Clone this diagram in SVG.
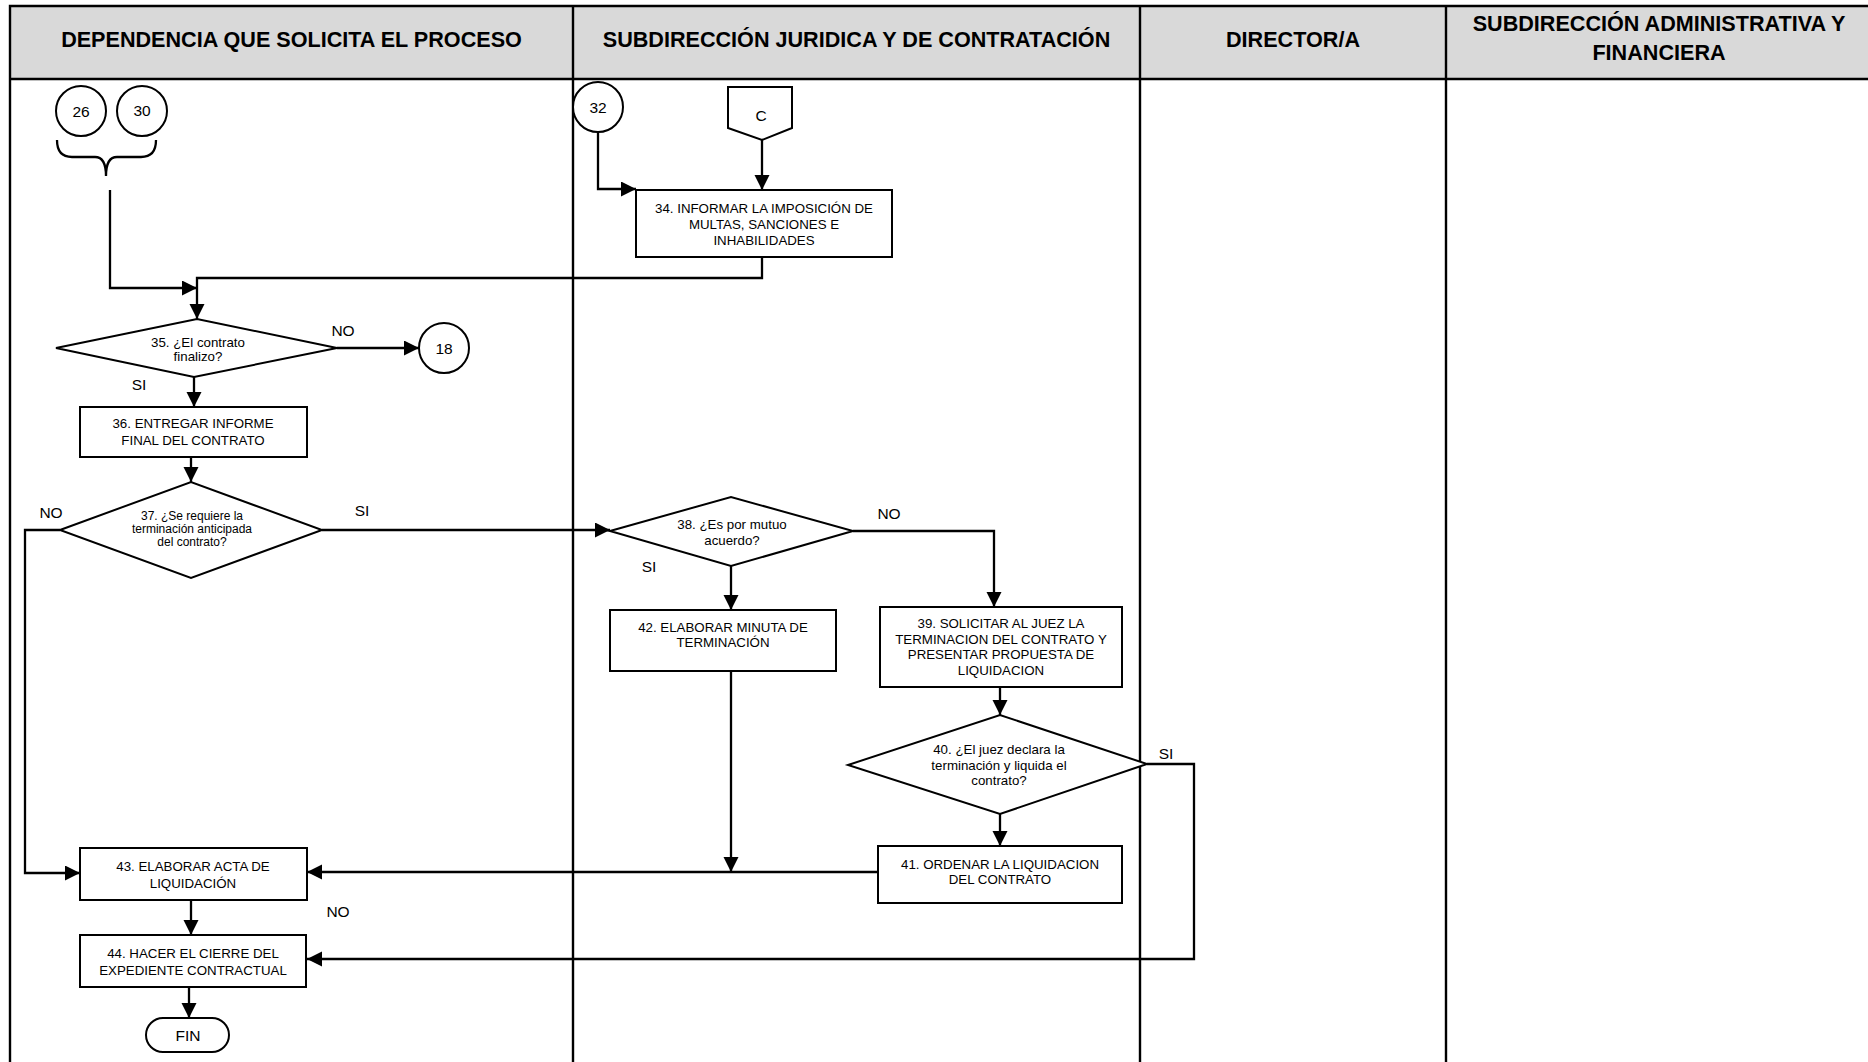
<svg xmlns="http://www.w3.org/2000/svg" width="1868" height="1062" viewBox="0 0 1868 1062">
<style>
.lane{fill:none;stroke:#000;stroke-width:2.4}
.hdr{font-family:"Liberation Sans",Arial,sans-serif;font-weight:bold;font-size:21.6px;fill:#000;text-anchor:middle}
.box{fill:#fff;stroke:#000;stroke-width:2}
.t{font-family:"Liberation Sans",Arial,sans-serif;font-size:13.3px;fill:#000;text-anchor:middle}
.ts{font-family:"Liberation Sans",Arial,sans-serif;font-size:12px;fill:#000;text-anchor:middle}
.lbl{font-family:"Liberation Sans",Arial,sans-serif;font-size:15.5px;fill:#000;text-anchor:middle}
.c{font-family:"Liberation Sans",Arial,sans-serif;font-size:15.5px;fill:#000;text-anchor:middle}
.ln{fill:none;stroke:#000;stroke-width:2.3}
.arr{fill:none;stroke:#000;stroke-width:2.3;marker-end:url(#ah)}
</style>
<defs>
<marker id="ah" markerUnits="userSpaceOnUse" markerWidth="16" markerHeight="16" refX="15" refY="7.5" orient="auto">
<path d="M0,0 L15,7.5 L0,15 Z" fill="#000"/>
</marker>
</defs>
<rect x="0" y="0" width="1868" height="1062" fill="#fff"/>
<g id="lanes">
<rect x="10" y="6" width="1870" height="73" fill="#d9d9d9"/>
<path class="lane" d="M10,1062 L10,6 L1868,6 M10,79 L1868,79 M573,6 L573,1062 M1140,6 L1140,1062 M1446,6 L1446,1062"/>
<text class="hdr" x="291.5" y="47">DEPENDENCIA QUE SOLICITA EL PROCESO</text>
<text class="hdr" x="856.5" y="47">SUBDIRECCIÓN JURIDICA Y DE CONTRATACIÓN</text>
<text class="hdr" x="1293" y="47">DIRECTOR/A</text>
<text class="hdr" x="1659" y="31">SUBDIRECCIÓN ADMINISTRATIVA Y</text>
<text class="hdr" x="1659" y="60">FINANCIERA</text>
</g>
<g id="connectors">
<path class="ln" d="M57,140 Q57,157 72,157 L95,157 Q106,157 106,176 Q106,157 117,157 L141,157 Q156,157 156,140"/>
<path class="arr" d="M110,190 L110,288 L197,288"/>
<path class="arr" d="M762,257 L762,278 L197,278 L197,319"/>
<path class="arr" d="M337,348 L419,348"/>
<path class="arr" d="M194,377 L194,407"/>
<path class="arr" d="M191,457 L191,482"/>
<path class="arr" d="M60,530 L25,530 L25,873 L80,873"/>
<path class="arr" d="M322,530 L610,530"/>
<path class="arr" d="M853,531 L994,531 L994,607"/>
<path class="arr" d="M731,566 L731,610"/>
<path class="arr" d="M731,671 L731,872"/>
<path class="arr" d="M1000,687 L1000,715"/>
<path class="arr" d="M1147,764 L1194,764 L1194,959 L307,959"/>
<path class="arr" d="M1000,814 L1000,846"/>
<path class="arr" d="M878,872 L307,872"/>
<path class="arr" d="M191,900 L191,935"/>
<path class="arr" d="M189,987 L189,1018"/>
<path class="arr" d="M598,133 L598,189 L636,189"/>
<path class="arr" d="M762,140 L762,190"/>
<text class="lbl" x="343" y="336">NO</text>
<text class="lbl" x="139" y="390">SI</text>
<text class="lbl" x="51" y="518">NO</text>
<text class="lbl" x="362" y="516">SI</text>
<text class="lbl" x="889" y="519">NO</text>
<text class="lbl" x="649" y="572">SI</text>
<text class="lbl" x="1166" y="759">SI</text>
<text class="lbl" x="338" y="917">NO</text>
</g>
<g id="n26"><circle class="box" cx="81" cy="111" r="25"/><text class="c" x="81" y="117">26</text></g>
<g id="n30"><circle class="box" cx="142" cy="111" r="25"/><text class="c" x="142" y="116">30</text></g>
<g id="n32"><circle class="box" cx="598" cy="107" r="25"/><text class="c" x="598" y="113">32</text></g>
<g id="nC"><path class="box" d="M728,87 L792,87 L792,128 L762,140 L728,128 Z"/><text class="c" x="761" y="121">C</text></g>
<g id="n34"><rect class="box" x="636" y="190" width="256" height="67"/>
<text class="t" x="764" y="213">34. INFORMAR LA IMPOSICIÓN DE</text>
<text class="t" x="764" y="229">MULTAS, SANCIONES E</text>
<text class="t" x="764" y="245">INHABILIDADES</text></g>
<g id="n35"><path class="box" d="M56,348 L197,319 L337,348 L194,377 Z"/>
<text class="t" x="198" y="347">35. ¿El contrato</text>
<text class="t" x="198" y="361">finalizo?</text></g>
<g id="n18"><circle class="box" cx="444" cy="348" r="25"/><text class="c" x="444" y="354">18</text></g>
<g id="n36"><rect class="box" x="80" y="407" width="227" height="50"/>
<text class="t" x="193" y="428">36. ENTREGAR INFORME</text>
<text class="t" x="193" y="445">FINAL DEL CONTRATO</text></g>
<g id="n37"><path class="box" d="M60,530 L191,482 L322,530 L191,578 Z"/>
<text class="ts" x="192" y="520">37. ¿Se requiere la</text>
<text class="ts" x="192" y="533">terminación anticipada</text>
<text class="ts" x="192" y="546">del contrato?</text></g>
<g id="n38"><path class="box" d="M610,531 L731,497 L853,531 L731,566 Z"/>
<text class="t" x="732" y="529">38. ¿Es por mutuo</text>
<text class="t" x="732" y="545">acuerdo?</text></g>
<g id="n42"><rect class="box" x="610" y="610" width="226" height="61"/>
<text class="t" x="723" y="632">42. ELABORAR MINUTA DE</text>
<text class="t" x="723" y="647">TERMINACIÓN</text></g>
<g id="n39"><rect class="box" x="880" y="607" width="242" height="80"/>
<text class="t" x="1001" y="628">39. SOLICITAR AL JUEZ LA</text>
<text class="t" x="1001" y="644">TERMINACION DEL CONTRATO Y</text>
<text class="t" x="1001" y="659">PRESENTAR PROPUESTA DE</text>
<text class="t" x="1001" y="675">LIQUIDACION</text></g>
<g id="n40"><path class="box" d="M848,765 L1000,715 L1147,764 L1000,814 Z"/>
<text class="t" x="999" y="754">40. ¿El juez declara la</text>
<text class="t" x="999" y="770">terminación y liquida el</text>
<text class="t" x="999" y="785">contrato?</text></g>
<g id="n41"><rect class="box" x="878" y="846" width="244" height="57"/>
<text class="t" x="1000" y="869">41. ORDENAR LA LIQUIDACION</text>
<text class="t" x="1000" y="884">DEL CONTRATO</text></g>
<g id="n43"><rect class="box" x="80" y="848" width="227" height="52"/>
<text class="t" x="193" y="871">43. ELABORAR ACTA DE</text>
<text class="t" x="193" y="888">LIQUIDACIÓN</text></g>
<g id="n44"><rect class="box" x="80" y="935" width="226" height="52"/>
<text class="t" x="193" y="958">44. HACER EL CIERRE DEL</text>
<text class="t" x="193" y="975">EXPEDIENTE CONTRACTUAL</text></g>
<g id="nFIN"><rect class="box" x="146" y="1018" width="83" height="34" rx="17" ry="17"/>
<text class="c" x="188" y="1041">FIN</text></g>
</svg>
